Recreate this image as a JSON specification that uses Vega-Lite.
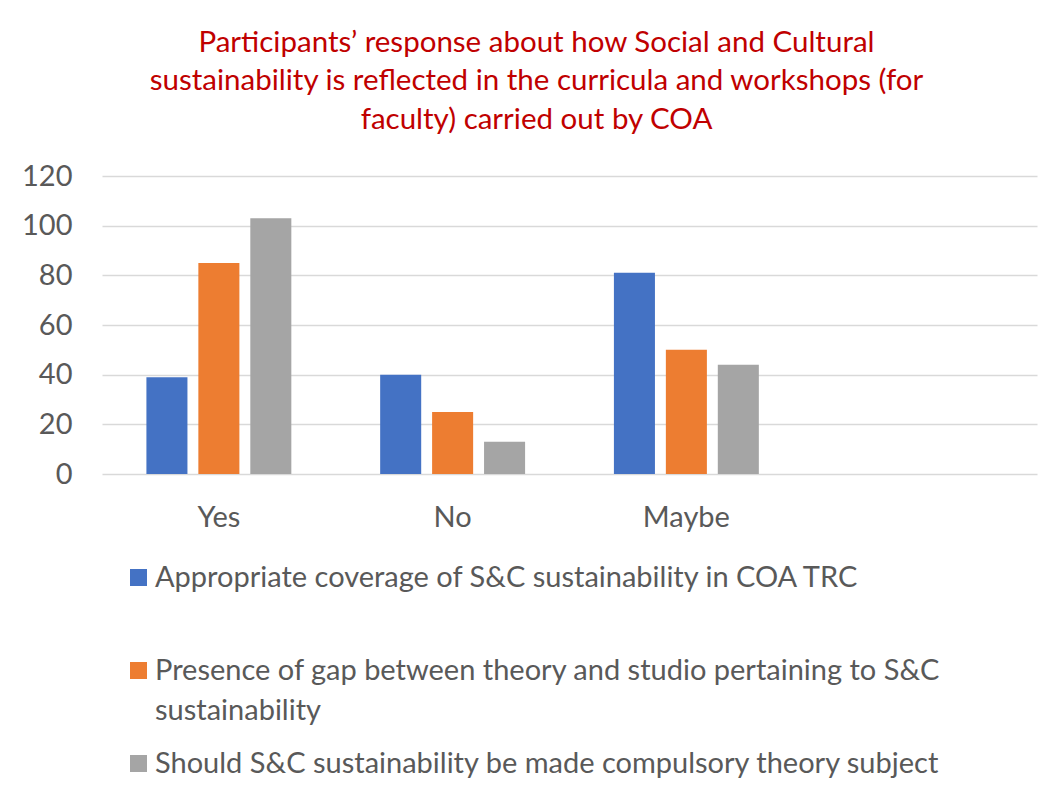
{
  "$schema": "https://vega.github.io/schema/vega-lite/v6.json",
  "width": 935,
  "height": 298,
  "autosize": {"type": "none"},
  "padding": {"left": 102, "top": 176, "right": 23, "bottom": 326},
  "background": "white",
  "title": {
    "text": [
      "Participants’ response about how Social and Cultural",
      "sustainability is reflected in the curricula and workshops (for",
      "faculty) carried out by COA"
    ],
    "color": "#C00000",
    "font": "Lato",
    "fontSize": 29.5,
    "fontWeight": "normal",
    "lineHeight": 38.5,
    "anchor": "middle",
    "dx": -33,
    "offset": 27
  },
  "data": {
    "values": [
      {"answer": "Yes", "item": "Appropriate coverage of S&C sustainability in COA TRC", "count": 39},
      {"answer": "Yes", "item": "Presence of gap between theory and studio pertaining to S&C sustainability", "count": 85},
      {"answer": "Yes", "item": "Should S&C sustainability be made compulsory theory subject", "count": 103},
      {"answer": "No", "item": "Appropriate coverage of S&C sustainability in COA TRC", "count": 40},
      {"answer": "No", "item": "Presence of gap between theory and studio pertaining to S&C sustainability", "count": 25},
      {"answer": "No", "item": "Should S&C sustainability be made compulsory theory subject", "count": 13},
      {"answer": "Maybe", "item": "Appropriate coverage of S&C sustainability in COA TRC", "count": 81},
      {"answer": "Maybe", "item": "Presence of gap between theory and studio pertaining to S&C sustainability", "count": 50},
      {"answer": "Maybe", "item": "Should S&C sustainability be made compulsory theory subject", "count": 44}
    ]
  },
  "mark": {"type": "bar"},
  "encoding": {
    "x": {
      "field": "answer",
      "type": "nominal",
      "sort": null,
      "scale": {"domain": ["Yes", "No", "Maybe", ""], "paddingInner": 0.38, "paddingOuter": 0.19},
      "axis": {
        "title": null,
        "domain": false,
        "ticks": false,
        "grid": false,
        "labelAngle": 0,
        "labelPadding": 29,
        "labelFont": "Lato",
        "labelFontSize": 29,
        "labelColor": "#595959"
      }
    },
    "xOffset": {
      "field": "item",
      "type": "nominal",
      "sort": null,
      "scale": {
        "domain": [
          "Appropriate coverage of S&C sustainability in COA TRC",
          "Presence of gap between theory and studio pertaining to S&C sustainability",
          "Should S&C sustainability be made compulsory theory subject"
        ],
        "paddingInner": 0.21,
        "paddingOuter": 0
      }
    },
    "y": {
      "field": "count",
      "type": "quantitative",
      "scale": {"domain": [0, 120], "nice": false},
      "axis": {
        "title": null,
        "values": [0, 20, 40, 60, 80, 100, 120],
        "domain": false,
        "ticks": false,
        "labelPadding": 30,
        "labelFont": "Lato",
        "labelFontSize": 29,
        "labelColor": "#595959",
        "gridColor": "#d9d9d9",
        "gridWidth": 1.5
      }
    },
    "color": {
      "field": "item",
      "type": "nominal",
      "scale": {
        "domain": [
          "Appropriate coverage of S&C sustainability in COA TRC",
          "Presence of gap between theory and studio pertaining to S&C sustainability",
          "Should S&C sustainability be made compulsory theory subject"
        ],
        "range": ["#4472C4", "#ED7D31", "#A5A5A5"]
      },
      "legend": {
        "title": null,
        "orient": "none",
        "legendX": 22,
        "legendY": 387,
        "direction": "vertical",
        "gridAlign": "all",
        "rowPadding": 23,
        "symbolType": "square",
        "symbolSize": 289,
        "symbolStrokeWidth": 0,
        "labelOffset": 2,
        "labelLimit": 0,
        "labelFont": "Lato",
        "labelFontSize": 29,
        "labelColor": "#595959",
        "labelBaseline": "top",
        "labelExpr": "datum.label == 'Presence of gap between theory and studio pertaining to S&C sustainability' ? ['Presence of gap between theory and studio pertaining to S&C', 'sustainability'] : datum.label",
        "encode": {
          "labels": {"update": {"dy": {"value": -14}, "lineHeight": {"value": 40}}}
        }
      }
    }
  },
  "config": {
    "view": {"stroke": null}
  }
}
